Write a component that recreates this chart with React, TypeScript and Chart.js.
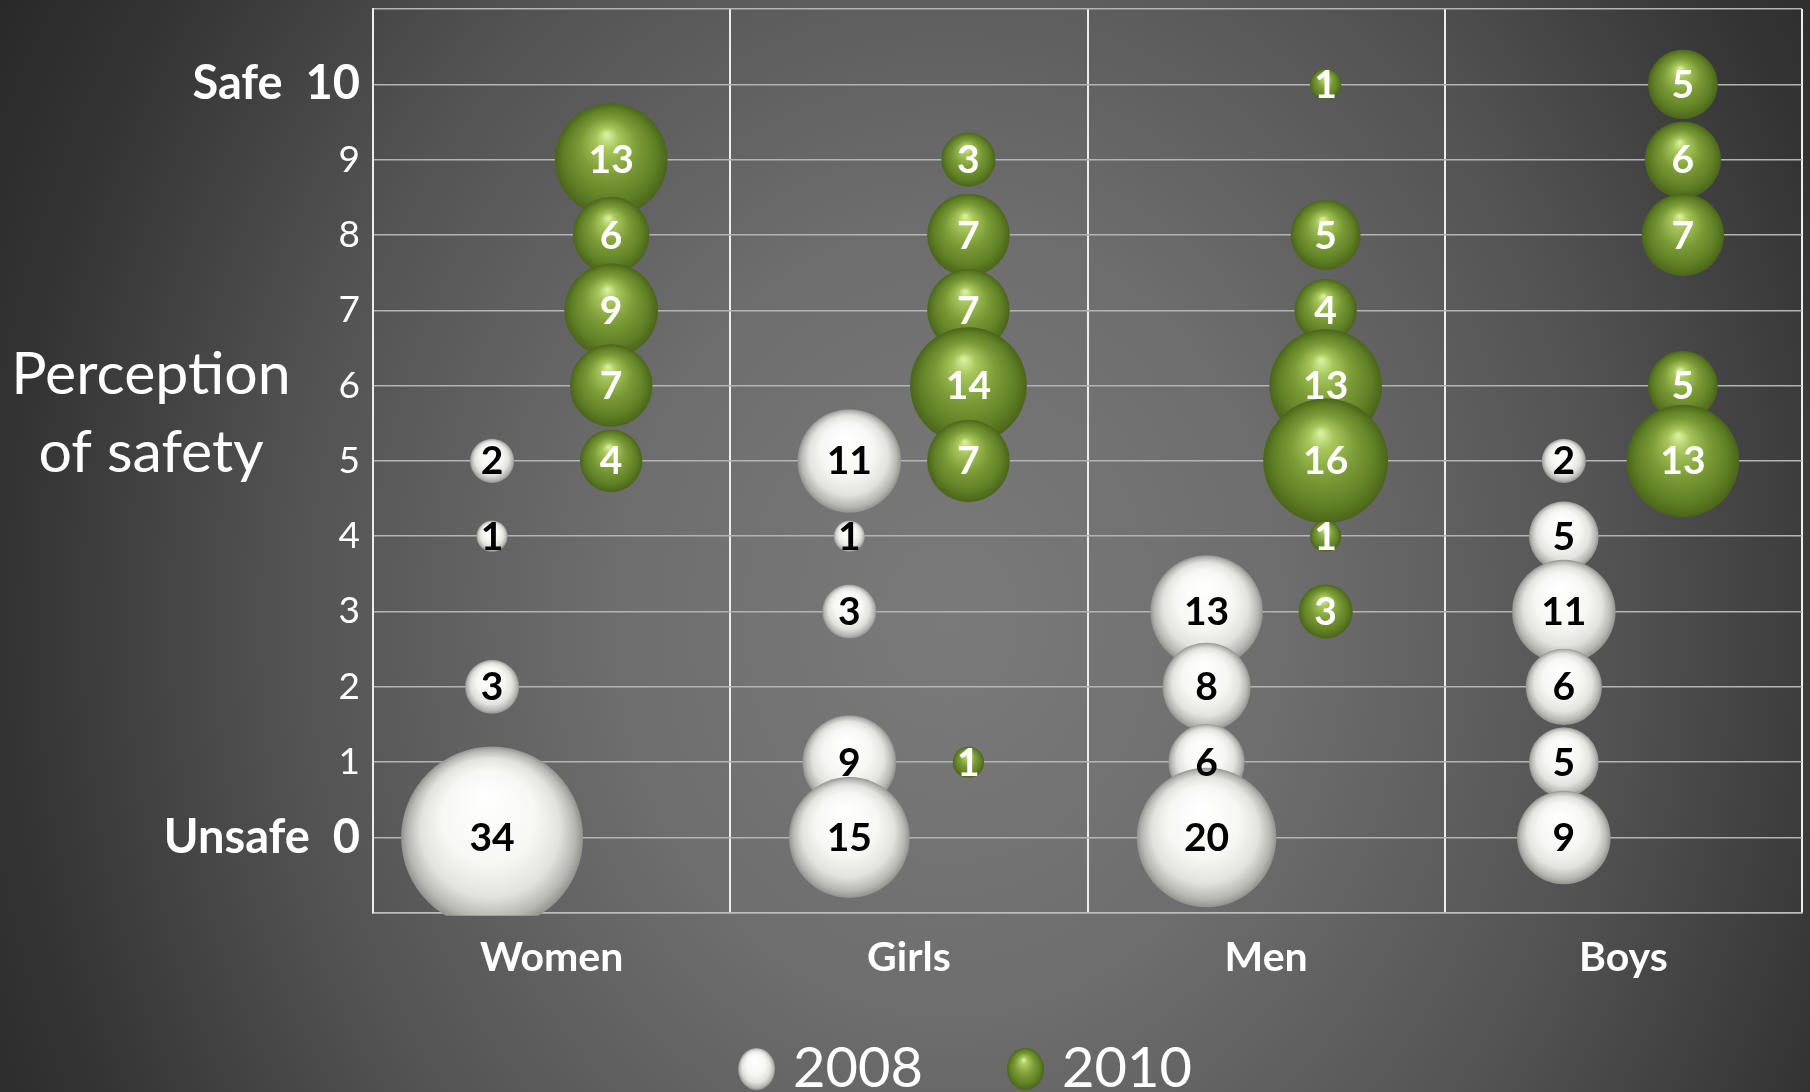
import React, { useEffect, useRef } from 'react';
import { Chart, registerables } from 'chart.js';

Chart.register(...registerables);

// ---------- data ----------
const categories = ['Women', 'Girls', 'Men', 'Boys'];
const seriesLabels = ['2008', '2010'];
const yTickLabels = ['Unsafe  0', '1', '2', '3', '4', '5', '6', '7', '8', '9', 'Safe  10'];
const yTitleLines = ['Perception', 'of safety'];

// counts per perception level, index = level 0..10 (null = no bubble)
const women2008 = [34, null, 3, null, 1, 2, null, null, null, null, null];
const girls2008 = [15, 9, null, 3, 1, 11, null, null, null, null, null];
const men2008 = [20, 6, 8, 13, null, null, null, null, null, null, null];
const boys2008 = [9, 5, 6, 11, 5, 2, null, null, null, null, null];

const women2010 = [null, null, null, null, null, 4, 7, 9, 6, 13, null];
const girls2010 = [null, 1, null, null, null, 7, 14, 7, 7, 3, null];
const men2010 = [null, null, null, 3, 1, 16, 13, 4, 5, null, 1];
const boys2010 = [null, null, null, null, null, 13, 5, null, 7, 6, 5];

const series2008 = [women2008, girls2008, men2008, boys2008];
const series2010 = [women2010, girls2010, men2010, boys2010];

// ---------- style ----------
const RADIUS_PER_SQRT = 15.6;
const FONT = 'Lato, "Open Sans", "DejaVu Sans", sans-serif';
const WHITE_STOPS: [number, string][] = [
  [0, '#ffffff'], [0.5, '#f7f7f4'], [0.76, '#e2e2de'], [0.92, '#b6b6b2'], [1, '#92928e'],
];
const GREEN_STOPS: [number, string][] = [
  [0, '#d6f09e'], [0.18, '#a8c65c'], [0.5, '#7c9c38'], [0.82, '#5f7f25'], [1, '#4a6519'],
];
const LABEL_COLORS = ['#000000', '#ffffff'];
const BG =
  'radial-gradient(ellipse 1100px 1300px at 950px 620px, #7a7a7a 0%, #6e6e6e 30%, #535353 60%, #343434 85%, #282828 100%)';

function buildPoints(series: (number | null)[][], offset: number) {
  const pts: { x: number; y: number; r: number; v: number }[] = [];
  series.forEach((levels, ci) => {
    for (let lvl = levels.length - 1; lvl >= 0; lvl--) {
      const v = levels[lvl];
      if (v == null) continue;
      pts.push({ x: ci + offset, y: lvl, r: Math.sqrt(v) * RADIUS_PER_SQRT, v });
    }
  });
  return pts;
}

function sphere(stops: [number, string][]) {
  return (ctx: any) => {
    const raw = ctx.raw;
    const chart = ctx.chart;
    const fallback = stops[2][1];
    if (!raw || !chart.scales || !chart.scales.x || !chart.scales.y) return fallback;
    const cx = chart.scales.x.getPixelForValue(raw.x);
    const cy = chart.scales.y.getPixelForValue(raw.y);
    const r = raw.r;
    if (!Number.isFinite(cx) || !Number.isFinite(cy) || !Number.isFinite(r) || r <= 0) return fallback;
    const g = chart.ctx.createRadialGradient(cx - r * 0.08, cy - r * 0.45, r * 0.02, cx, cy, r);
    stops.forEach(([o, c]) => g.addColorStop(o, c));
    return g;
  };
}

const labelsPlugin = {
  id: 'bubbleLabels',
  afterDatasetsDraw(chart: any) {
    const { ctx } = chart;
    ctx.save();
    ctx.font = `bold 39px ${FONT}`;
    ctx.textAlign = 'center';
    ctx.textBaseline = 'middle';
    chart.data.datasets.forEach((ds: any, di: number) => {
      const meta = chart.getDatasetMeta(di);
      ctx.fillStyle = LABEL_COLORS[di];
      meta.data.forEach((el: any, i: number) => {
        ctx.fillText(String(ds.data[i].v), el.x, el.y + 1);
      });
    });
    ctx.restore();
  },
};

const decorPlugin = {
  id: 'decor',
  afterDraw(chart: any) {
    const { ctx } = chart;
    ctx.save();
    // axis title, horizontal text
    ctx.fillStyle = '#ffffff';
    ctx.font = `59px ${FONT}`;
    ctx.textAlign = 'center';
    ctx.textBaseline = 'alphabetic';
    yTitleLines.forEach((line, i) => ctx.fillText(line, 151, 394 + i * 78));

    // legend
    ctx.font = `56px ${FONT}`;
    ctx.textAlign = 'left';
    ctx.textBaseline = 'middle';
    const mw = 37, mh = 42, gapText = 18, gapItem = 84;
    const items = chart.data.datasets.map((d: any) => ({ text: d.label, w: ctx.measureText(d.label).width }));
    const total = items.reduce((s: number, it: any, i: number) => s + mw + gapText + it.w + (i ? gapItem : 0), 0);
    let x = 965 - total / 2;
    const cy = 1069;
    items.forEach((it: any, i: number) => {
      const cx = x + mw / 2;
      ctx.save();
      ctx.translate(cx, cy);
      ctx.scale(1, mh / mw);
      const r = mw / 2;
      const g = ctx.createRadialGradient(-r * 0.1, -r * 0.45, r * 0.02, 0, 0, r);
      (i === 0 ? WHITE_STOPS : GREEN_STOPS).forEach(([o, c]) => g.addColorStop(o, c));
      ctx.fillStyle = g;
      ctx.beginPath();
      ctx.arc(0, 0, r, 0, Math.PI * 2);
      ctx.fill();
      ctx.restore();
      ctx.fillStyle = '#ffffff';
      ctx.fillText(it.text, x + mw + gapText, cy);
      x += mw + gapText + it.w + gapItem;
    });
    ctx.restore();
  },
};

export default function App() {
  const ref = useRef<HTMLCanvasElement | null>(null);

  useEffect(() => {
    let chart: any = null;
    let cancelled = false;
    const make = () => {
      if (cancelled || !ref.current) return;
      chart = new Chart(ref.current, {
        type: 'bubble',
        data: {
          datasets: [
            {
              label: seriesLabels[0],
              data: buildPoints(series2008, 1 / 3),
              backgroundColor: sphere(WHITE_STOPS),
              borderWidth: 0,
              clip: { left: false, top: false, right: false, bottom: 3 } as any,
            },
            {
              label: seriesLabels[1],
              data: buildPoints(series2010, 2 / 3),
              backgroundColor: sphere(GREEN_STOPS),
              borderWidth: 0,
              clip: { left: false, top: false, right: false, bottom: 3 } as any,
            },
          ],
        },
        options: {
          animation: false,
          responsive: false,
          devicePixelRatio: 1,
          events: [],
          layout: { autoPadding: false, padding: { top: 9, right: 8, bottom: 90, left: 0 } },
          plugins: { legend: { display: false }, tooltip: { enabled: false } },
          scales: {
            x: {
              type: 'linear',
              min: 0,
              max: 4,
              afterBuildTicks: (scale: any) => {
                const t = [];
                for (let v = 0; v <= 8; v++) t.push({ value: v / 2 });
                scale.ticks = t;
              },
              afterFit: (scale: any) => {
                scale.paddingLeft = 0;
                scale.paddingRight = 0;
              },
              ticks: {
                autoSkip: false,
                maxRotation: 0,
                minRotation: 0,
                padding: 20,
                color: '#ffffff',
                font: { family: FONT, size: 41, weight: 'bold' },
                callback: (v: any) => {
                  const n = Number(v);
                  return Number.isInteger(n) ? '' : categories[Math.floor(n)];
                },
              },
              grid: {
                drawTicks: false,
                color: (c: any) => (c.tick && Number.isInteger(c.tick.value) ? '#ededed' : 'rgba(0,0,0,0)'),
                lineWidth: 2,
              },
              border: { color: '#bdbdbd', width: 1.5 },
            },
            y: {
              type: 'linear',
              min: -1,
              max: 11,
              afterBuildTicks: (scale: any) => {
                const t = [];
                for (let v = -1; v <= 11; v++) t.push({ value: v });
                scale.ticks = t;
              },
              afterFit: (scale: any) => {
                scale.width = 373;
                scale.paddingTop = 0;
                scale.paddingBottom = 0;
              },
              ticks: {
                autoSkip: false,
                padding: 13,
                color: '#ffffff',
                font: (c: any) => {
                  const v = c.tick ? c.tick.value : 1;
                  if (v < 0 || v > 10) return { family: FONT, size: 1, weight: 'normal' };
                  return v === 0 || v === 10
                    ? { family: FONT, size: 47, weight: 'bold' }
                    : { family: FONT, size: 37, weight: 'normal' };
                },
                callback: (v: any) => {
                  const n = Number(v);
                  return n >= 0 && n < yTickLabels.length ? yTickLabels[n] : '';
                },
              },
              grid: { drawTicks: false, color: '#b4b4b4', lineWidth: 1.5 },
              border: { color: '#ededed', width: 2 },
            },
          },
        } as any,
        plugins: [labelsPlugin, decorPlugin],
      });
    };
    const fontsReady = (document as any).fonts
      ? Promise.all([
          (document as any).fonts.load(`bold 37px Lato`),
          (document as any).fonts.load(`56px Lato`),
        ]).catch(() => null)
      : Promise.resolve(null);
    fontsReady.then(make);
    return () => {
      cancelled = true;
      if (chart) chart.destroy();
    };
  }, []);

  return (
    <div
      style={{
        position: 'fixed',
        left: 0,
        top: 0,
        width: 1810,
        height: 1092,
        overflow: 'hidden',
        background: BG,
      }}
    >
      <canvas ref={ref} width={1810} height={1092} style={{ display: 'block' }} />
    </div>
  );
}
